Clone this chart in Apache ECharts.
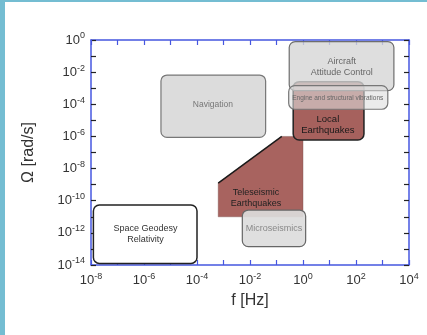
<!DOCTYPE html>
<html><head><meta charset="utf-8">
<script src="https://cdn.jsdelivr.net/npm/echarts@6/dist/echarts.min.js"></script>
<style>
html,body{margin:0;padding:0;background:#fff;width:427px;height:335px;overflow:hidden}
#c{position:absolute;left:0;top:0;width:427px;height:335px}
.bl{position:absolute;left:0;top:0;width:5px;height:335px;background:#74BDD2}
.bt{position:absolute;left:0;top:0;width:427px;height:2px;background:#74BDD2}
</style></head><body>
<div id="c"></div><div class="bl"></div><div class="bt"></div>
<script>
// All positions in log10 units: log10(f [Hz]) and log10(Omega [rad/s])
const xTickExps = [-8, -6, -4, -2, 0, 2, 4];
const yTickExps = [-14, -12, -10, -8, -6, -4, -2, 0];

const regionNames = ['Local\nEarthquakes', 'Aircraft\nAttitude Control', 'Engine and structural vibrations',
  'Navigation', 'Microseismics', 'Space Geodesy\nRelativity'];
const logFreqLow   = [-0.37, -0.52, -0.54, -5.36, -2.29, -7.91];
const logFreqHigh  = [ 2.30,  3.43,  3.20, -1.41,  0.10, -4.00];
const logOmegaHigh = [-2.59, -0.10, -2.84, -2.18, -10.58, -10.27];
const logOmegaLow  = [-6.22, -3.15, -4.31, -6.06, -12.86, -13.90];
const labelLogFreq  = [0.94, 1.46, 1.31, -3.40, -1.09, -5.94];
const labelLogOmega = [-5.29, -1.66, -3.61, -4.04, -11.74, -12.09];

const teleName = 'Teleseismic\nEarthquakes';
const teleLogFreq  = [-3.2, -0.8, 0.0, 0.0, -3.2];
const teleLogOmega = [-8.9, -6.0, -6.0, -11.0, -11.0];
const teleLabel = [-1.77, -9.81];

const FONT = '"Liberation Sans", Arial, Helvetica, sans-serif';
const regionStyles = [
  {fill: '#a6615d', stroke: '#222', lw: 1.5, color: '#1a1a1a', size: 9.5},
  {fill: 'rgba(214,214,214,0.8)', stroke: '#6e6e6e', lw: 1.2, color: '#666', size: 9},
  {fill: 'rgba(222,222,222,0.6)', stroke: '#777', lw: 1.2, color: '#666', size: 6.5},
  {fill: '#dcdcdc', stroke: '#777', lw: 1.2, color: '#777', size: 8.5},
  {fill: 'rgba(220,220,220,0.92)', stroke: '#666', lw: 1.2, color: '#888', size: 9},
  {fill: '#ffffff', stroke: '#222', lw: 1.5, color: '#333', size: 9}
];

const AXIS_BLUE = '#4657e0';
function expLabel(list) {
  return function (v) {
    const e = Math.round(v);
    if (!list.includes(e)) return '';
    return '{b|10}{s|' + e + '}';
  };
}
const rich = {
  b: {fontSize: 13, color: '#333', fontFamily: FONT},
  s: {fontSize: 9, color: '#333', fontFamily: FONT, padding: [0, 0, 8, 0]}
};

const rectData = regionNames.map((n, i) => [logFreqLow[i], logOmegaHigh[i], logFreqHigh[i], logOmegaLow[i], labelLogFreq[i], labelLogOmega[i]]);

const lineBlue = {show: true, onZero: false, lineStyle: {color: AXIS_BLUE, width: 1.5}};
const chart = echarts.init(document.getElementById('c'), null, {renderer: 'canvas'});
chart.setOption({
  animation: false,
  grid: {left: 91, top: 40, right: 18, bottom: 70, containLabel: false},
  xAxis: [{
    type: 'value', min: -8, max: 4, interval: 1, position: 'bottom',
    name: 'f [Hz]', nameLocation: 'middle', nameGap: 28,
    nameTextStyle: {fontSize: 16, color: '#333', fontFamily: FONT},
    axisLine: lineBlue,
    axisTick: {show: true, inside: true, length: 5, lineStyle: {color: AXIS_BLUE, width: 1.2}},
    axisLabel: {formatter: expLabel(xTickExps), rich: rich, margin: 7},
    splitLine: {show: false}
  }, {
    type: 'value', min: -8, max: 4, interval: 1, position: 'top',
    axisLine: lineBlue,
    axisTick: {show: true, inside: true, length: 5, lineStyle: {color: AXIS_BLUE, width: 1.2}},
    axisLabel: {show: false}, splitLine: {show: false}
  }],
  yAxis: [{
    type: 'value', min: -14, max: 0, interval: 1, position: 'left',
    name: 'Ω [rad/s]', nameLocation: 'middle', nameGap: 54, nameRotate: 90,
    nameTextStyle: {fontSize: 16, color: '#333', fontFamily: FONT},
    axisLine: lineBlue,
    axisTick: {show: true, inside: true, length: 5, lineStyle: {color: '#222', width: 1.2}},
    axisLabel: {formatter: expLabel(yTickExps), rich: rich, margin: 6},
    splitLine: {show: false}
  }, {
    type: 'value', min: -14, max: 0, interval: 1, position: 'right',
    axisLine: lineBlue,
    axisTick: {show: true, inside: true, length: 5, lineStyle: {color: '#222', width: 1.2}},
    axisLabel: {show: false}, splitLine: {show: false}
  }],
  series: [{
    type: 'custom', xAxisIndex: 0, yAxisIndex: 0, z: 2,
    data: [[0]],
    renderItem: function (params, api) {
      const pts = teleLogFreq.map((f, k) => api.coord([f, teleLogOmega[k]]));
      const c = api.coord(teleLabel);
      return {type: 'group', children: [
        {type: 'polygon', shape: {points: pts}, style: {fill: '#a8635f', stroke: 'rgba(120,80,78,0.5)', lineWidth: 0.8}},
        {type: 'line', shape: {x1: pts[0][0], y1: pts[0][1], x2: pts[1][0], y2: pts[1][1]}, style: {stroke: '#1a1a1a', lineWidth: 1.5}},
        {type: 'text', x: c[0], y: c[1], style: {text: teleName, fill: '#222', font: '9px ' + FONT, align: 'center', verticalAlign: 'middle', lineHeight: 11}}
      ]};
    }
  }, {
    type: 'custom', xAxisIndex: 0, yAxisIndex: 0, z: 3,
    data: rectData,
    encode: {x: [0, 2, 4], y: [1, 3, 5]},
    renderItem: function (params, api) {
      const i = params.dataIndex;
      const st = regionStyles[i];
      const p1 = api.coord([api.value(0), api.value(1)]);
      const p2 = api.coord([api.value(2), api.value(3)]);
      const c = api.coord([api.value(4), api.value(5)]);
      return {type: 'group', children: [
        {type: 'rect', shape: {x: p1[0], y: p1[1], width: p2[0] - p1[0], height: p2[1] - p1[1], r: 6},
          style: {fill: st.fill, stroke: st.stroke, lineWidth: st.lw}},
        {type: 'text', x: c[0], y: c[1], style: {text: regionNames[i], fill: st.color,
          font: st.size + 'px ' + FONT, align: 'center', verticalAlign: 'middle', lineHeight: st.size + 2}}
      ]};
    }
  }]
});
</script>
</body></html>
